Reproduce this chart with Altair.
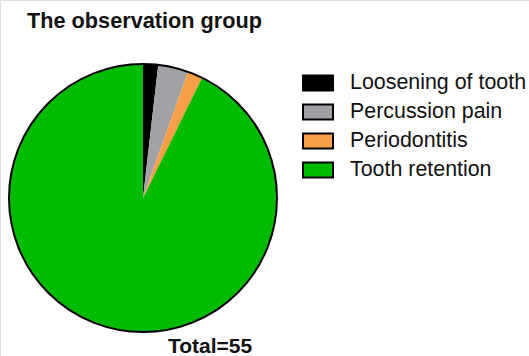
import altair as alt
import pandas as pd

# Outcome categories and patient counts for the observation group
categories = ["Loosening of tooth", "Percussion pain", "Periodontitis", "Tooth retention"]
counts = [1, 2, 1, 51]
colors = ["#000000", "#A1A1A6", "#F8A048", "#00BC00"]

title_text = "The observation group"
total_text = "Total=" + str(sum(counts))

df = pd.DataFrame({
    "category": categories,
    "count": counts,
    "order": list(range(len(categories))),
})

FONT = "Liberation Sans"
CX, CY, R = 143, 198, 134

rect_path = "M-1,-0.5H1V0.5H-1Z"

pie = alt.Chart(df).mark_arc(stroke=None).encode(
    theta=alt.Theta("count:Q", stack=True),
    order=alt.Order("order:Q"),
    color=alt.Color(
        "category:N",
        scale=alt.Scale(domain=categories, range=colors),
        sort=categories,
        legend=alt.Legend(
            title=None,
            orient="none",
            legendX=302,
            legendY=67,
            padding=0,
            symbolType=rect_path,
            symbolSize=900,
            symbolStrokeColor="black",
            symbolStrokeWidth=2,
            symbolOpacity=1,
            labelFont=FONT,
            labelFontSize=21.4,
            labelColor="#111111",
            labelOffset=16,
            rowPadding=1,
            labelLimit=300,
        ),
    ),
    x=alt.value(CX),
    y=alt.value(CY),
    radius=alt.value(R),
)

outline = alt.Chart(pd.DataFrame({"k": [0]})).mark_arc(
    theta=0, theta2=6.2832, fillOpacity=0, fill="white",
    stroke="black", strokeWidth=2,
).encode(
    x=alt.value(CX),
    y=alt.value(CY),
    radius=alt.value(R),
)

title = alt.Chart(pd.DataFrame({"t": [title_text]})).mark_text(
    font=FONT, fontSize=21.7, fontWeight="bold", align="left",
    baseline="alphabetic", color="#111111",
).encode(text="t:N", x=alt.value(27), y=alt.value(28))

total = alt.Chart(pd.DataFrame({"t": [total_text]})).mark_text(
    font=FONT, fontSize=21, fontWeight="bold", align="left",
    baseline="alphabetic", color="#111111",
).encode(text="t:N", x=alt.value(168), y=alt.value(353))

chart = alt.layer(pie, outline, title, total).properties(
    width=529, height=356,
    autosize=alt.AutoSizeParams(type="none"),
    padding=0,
).configure_view(stroke=None).configure(background="white")

chart.save("out.html", embed_options={"renderer": "svg", "actions": False})
